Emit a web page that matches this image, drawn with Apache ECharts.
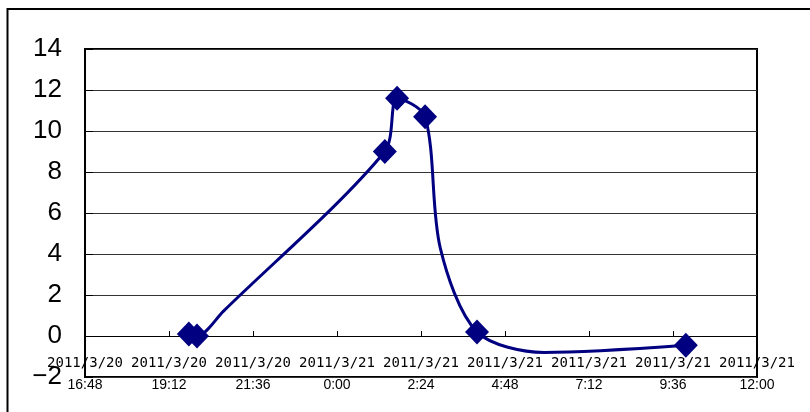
<!DOCTYPE html>
<html>
<head>
<meta charset="utf-8">
<script src="https://cdn.jsdelivr.net/npm/echarts@6/dist/echarts.min.js"></script>
<style>
  html, body { margin: 0; padding: 0; background: #fff; }
  #chart { width: 810px; height: 412px; }
</style>
</head>
<body>
<div id="chart"></div>
<script>
// Readings: timestamp, value, and whether the reading carries a marker
const sampleTimes = [
  '2011/3/20 19:46', '2011/3/20 20:00', '2011/3/20 20:45',
  '2011/3/21 1:22', '2011/3/21 1:43', '2011/3/21 2:31',
  '2011/3/21 2:57', '2011/3/21 4:00', '2011/3/21 5:55',
  '2011/3/21 9:58'
];
const sampleValues = [0.1, 0.0, 1.2, 9.0, 11.6, 10.7, 4.3, 0.2, -0.8, -0.45];
const sampleMarked = [true, true, false, true, true, true, false, true, false, true];

// Axis tick labels (every 2:24 from 2011/3/20 16:48)
const tickDates = ['2011/3/20', '2011/3/20', '2011/3/20', '2011/3/21', '2011/3/21',
                   '2011/3/21', '2011/3/21', '2011/3/21', '2011/3/21'];
const tickTimes = ['16:48', '19:12', '21:36', '0:00', '2:24', '4:48', '7:12', '9:36', '12:00'];

// Minutes counted from 2011/3/20 0:00
function toMinutes(s) {
  const [d, t] = s.split(' ');
  const day = parseInt(d.split('/')[2], 10) - 20;
  const [h, m] = t.split(':').map(Number);
  return day * 1440 + h * 60 + m;
}

const X_MIN = 1008, X_MAX = 2160, X_STEP = 144;

const linePoints = sampleTimes.map((t, i) => [toMinutes(t), sampleValues[i]]);
const markerPoints = linePoints.filter((p, i) => sampleMarked[i]);

const chart = echarts.init(document.getElementById('chart'), null, { renderer: 'canvas' });
chart.setOption({
  animation: false,
  backgroundColor: '#ffffff',
  graphic: [{
    type: 'rect',
    shape: { x: 7.5, y: 9, width: 900, height: 500 },
    style: { fill: 'none', stroke: '#000', lineWidth: 2 },
    z: 100
  }],
  grid: {
    left: 85, top: 49, right: 53, bottom: 35,
    outerBoundsMode: 'none', containLabel: false,
    show: true, borderColor: '#000', borderWidth: 2, backgroundColor: 'transparent'
  },
  xAxis: [
    {
      // axis line and ticks sitting on the zero line
      type: 'value',
      min: X_MIN, max: X_MAX, interval: X_STEP,
      axisLine: { onZero: true, lineStyle: { color: '#000', width: 1 } },
      axisTick: { inside: true, length: 5, lineStyle: { color: '#000' } },
      splitLine: { show: false },
      axisLabel: { show: false }
    },
    {
      // two-line date/time labels hanging between the zero line and the frame
      type: 'value',
      position: 'bottom',
      min: X_MIN, max: X_MAX, interval: X_STEP,
      axisLine: { show: false, onZero: false },
      axisTick: { show: false },
      splitLine: { show: false },
      axisLabel: {
        margin: -25,
        showMinLabel: true, showMaxLabel: true,
        hideOverlap: false,
        formatter: function (v) {
          const i = Math.round((v - X_MIN) / X_STEP);
          return '{d|' + tickDates[i] + '}\n{t|' + tickTimes[i] + '}';
        },
        rich: {
          d: { fontFamily: 'DejaVu Sans Mono', fontSize: 14, color: '#000', lineHeight: 22 },
          t: { fontFamily: 'Liberation Sans', fontSize: 14, color: '#000', lineHeight: 22 }
        }
      }
    }
  ],
  yAxis: {
    type: 'value',
    min: -2, max: 14, interval: 2,
    axisLine: { show: true, onZero: false, lineStyle: { color: '#000', width: 2 } },
    axisTick: { show: true, inside: true, length: 8, lineStyle: { color: '#000' } },
    splitLine: { show: true, lineStyle: { color: '#333', width: 1 } },
    axisLabel: {
      margin: 23,
      fontFamily: 'Liberation Sans', fontSize: 26, color: '#000',
      formatter: v => String(v).replace('-', '\u2212')
    }
  },
  series: [
    {
      type: 'line',
      xAxisIndex: 0,
      data: linePoints,
      smooth: 0.3,
      showSymbol: false,
      symbol: 'none',
      lineStyle: { color: '#000080', width: 3 },
      z: 3
    },
    {
      type: 'scatter',
      xAxisIndex: 0,
      data: markerPoints,
      symbol: 'diamond',
      symbolSize: [24, 25],
      itemStyle: { color: '#000080', opacity: 1 },
      z: 4
    }
  ]
});
</script>
</body>
</html>
